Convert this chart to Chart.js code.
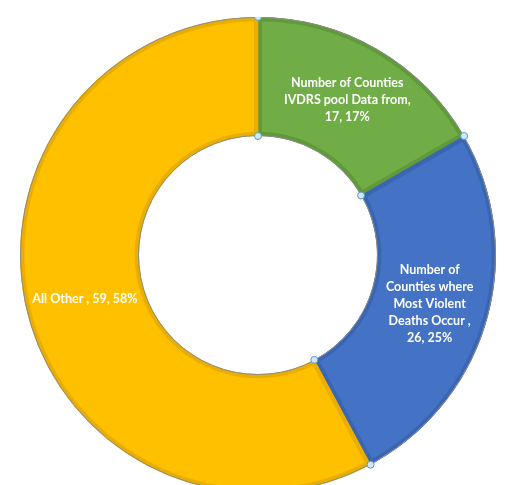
<!DOCTYPE html>
<html>
<head>
<meta charset="utf-8">
<script src="https://cdn.jsdelivr.net/npm/chart.js@4/dist/chart.umd.min.js"></script>
<style>
  html, body { margin: 0; padding: 0; background: #fff; overflow: hidden; }
  #wrap { position: absolute; left: 20px; top: 17px; width: 476px; height: 476px; }
</style>
</head>
<body>
<div id="wrap"><canvas id="donut"></canvas></div>
<script>
// 항목 이름 (줄바꿈 단위로 나눔)
const categories = [
  ['Number of Counties', 'IVDRS pool Data from'],
  ['Number of', 'Counties where', 'Most Violent', 'Deaths Occur '],
  ['All Other ']
];
// 카운티 수
const counts = [17, 26, 59];
// 색상
const fillColors = ['#70AD47', '#4472C4', '#FFC000'];
const edgeColors = ['#619a3b', '#3a65b2', '#e9ae00'];

const total = counts.reduce((a, b) => a + b, 0);

// 라벨 그리기
const labelPlugin = {
  id: 'sliceLabels',
  afterDatasetsDraw(chart) {
    const ctx = chart.ctx;
    const meta = chart.getDatasetMeta(0);
    ctx.save();
    ctx.fillStyle = '#ffffff';
    ctx.font = 'bold 12.5px Lato, "Open Sans", sans-serif';
    ctx.textAlign = 'center';
    ctx.textBaseline = 'middle';
    meta.data.forEach(function(arc, i) {
      const pos = arc.tooltipPosition();
      const pct = Math.round(counts[i] / total * 100) + '%';
      const name = chart.data.labels[i];
      let lines;
      if (name.length > 1) {
        lines = name.slice(0, -1).concat([name[name.length - 1] + ',', counts[i] + ', ' + pct]);
      } else {
        lines = [name[0] + ', ' + counts[i] + ', ' + pct];
      }
      const lh = 17;
      const startY = pos.y - (lines.length - 1) * lh / 2;
      lines.forEach(function(t, k) {
        ctx.fillText(t, pos.x, startY + k * lh);
      });
    });
    ctx.restore();
  }
};

// 회색 외곽선 + 선택 핸들
const outlinePlugin = {
  id: 'outlineHandles',
  afterDatasetsDraw(chart) {
    const ctx = chart.ctx;
    const meta = chart.getDatasetMeta(0);
    ctx.save();
    ctx.strokeStyle = '#8c8c8c';
    ctx.lineWidth = 1;
    meta.data.forEach(function(arc) {
      ctx.beginPath();
      ctx.arc(arc.x, arc.y, arc.outerRadius - 0.5, arc.startAngle, arc.endAngle);
      ctx.stroke();
      ctx.beginPath();
      ctx.arc(arc.x, arc.y, arc.innerRadius + 0.5, arc.startAngle, arc.endAngle);
      ctx.stroke();
    });
    meta.data.forEach(function(arc) {
      [arc.outerRadius, arc.innerRadius].forEach(function(r) {
        const hx = arc.x + Math.cos(arc.startAngle) * r;
        const hy = arc.y + Math.sin(arc.startAngle) * r;
        ctx.beginPath();
        ctx.arc(hx, hy, 3.5, 0, Math.PI * 2);
        ctx.fillStyle = '#cfe8f5';
        ctx.fill();
        ctx.strokeStyle = '#5b9bc4';
        ctx.lineWidth = 1;
        ctx.stroke();
      });
    });
    ctx.restore();
  }
};

new Chart(document.getElementById('donut').getContext('2d'), {
  type: 'doughnut',
  data: {
    labels: categories,
    datasets: [{
      data: counts,
      backgroundColor: fillColors,
      borderColor: edgeColors,
      borderWidth: 4,
      borderAlign: 'inner',
      hoverOffset: 0,
      radius: 238
    }]
  },
  options: {
    responsive: true,
    maintainAspectRatio: false,
    animation: false,
    cutout: '50%',
    plugins: {
      legend: { display: false },
      tooltip: { enabled: false }
    }
  },
  plugins: [labelPlugin, outlinePlugin]
});
</script>
</body>
</html>
